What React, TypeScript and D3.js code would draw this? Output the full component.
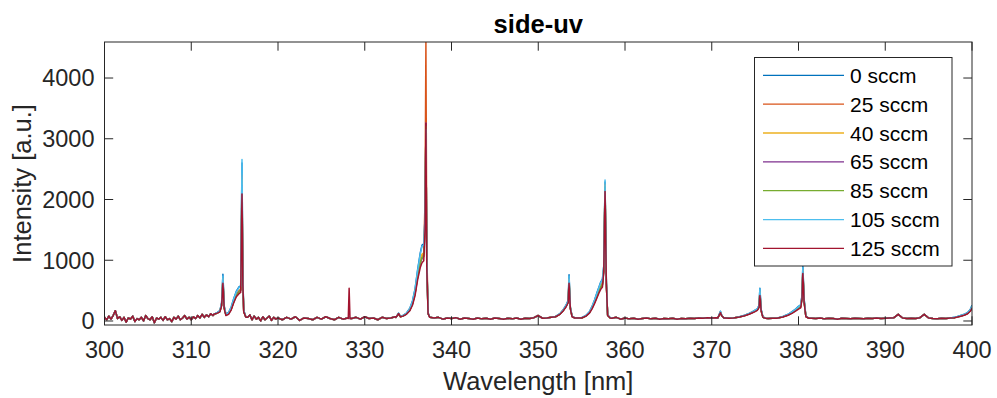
import React, { useEffect, useRef } from "react";
import * as d3 from "d3";

const W = 997;
const H = 398;
const margin = { left: 104.5, right: 997 - 972, top: 42, bottom: 398 - 325 };

const xDomain = [300, 400];
const yDomain = [-66, 4593];
const xTicks = [300, 310, 320, 330, 340, 350, 360, 370, 380, 390, 400];
const yTicks = [0, 1000, 2000, 3000, 4000];

const seriesNames = ["0 sccm", "25 sccm", "40 sccm", "65 sccm", "85 sccm", "105 sccm", "125 sccm"];
const seriesColors = ["#0072BD", "#D95319", "#EDB120", "#7E2F8E", "#77AC30", "#4DBEEE", "#A2142F"];

// Shared background (noise floor)
const bgWavelength = [
  300.0, 300.25, 300.5, 300.75, 301.0, 301.25, 301.5, 301.75, 302.0, 302.25, 302.5, 302.75,
  303.0, 303.25, 303.5, 303.75, 304.0, 304.25, 304.5, 304.75, 305.0, 305.25, 305.5, 305.75,
  306.0, 306.25, 306.5, 306.75, 307.0, 307.25, 307.5, 307.75, 308.0, 308.25, 308.5, 308.75,
  309.0, 309.25, 309.5, 309.75, 310.0, 310.25, 310.5, 310.75, 311.0, 311.25, 311.5, 311.75,
  312.0, 312.25, 312.5,
  316.5, 316.75, 317.0, 317.25, 317.5, 317.75, 318.0, 318.25, 318.5, 318.75, 319.0, 319.25,
  319.5, 319.75,
  320.0, 320.5, 321.0, 321.5, 322.0, 322.5, 323.0, 323.5, 324.0, 324.5, 325.0, 325.5,
  326.0, 326.5, 327.0, 327.5, 328.0, 328.5, 329.0, 329.5, 330.0, 330.5, 331.0, 331.5,
  332.0, 332.5, 333.0, 333.5,
  338.0, 338.5, 339.0, 339.5, 340.0, 340.5, 341.0, 341.5, 342.0, 342.5, 343.0, 343.5,
  344.0, 344.5, 345.0, 345.5, 346.0, 346.5, 347.0, 347.5, 348.0, 348.5, 349.0, 349.5,
  350.0, 350.5, 351.0, 351.5,
  358.5, 359.0, 359.5, 360.0, 360.5, 361.0, 361.5, 362.0, 362.5, 363.0, 363.5, 364.0,
  364.5, 365.0, 365.5, 366.0, 366.5, 367.0, 367.5, 368.0, 368.5, 369.0, 369.5, 370.0,
  370.5, 371.5, 372.0, 376.5, 377.0,
  381.5, 382.0, 382.5, 383.0, 383.5, 384.0, 384.5, 385.0, 385.5, 386.0, 386.5, 387.0,
  387.5, 388.0, 388.5, 389.0, 389.5, 390.0, 390.5, 391.0, 391.5, 392.0, 392.5, 393.0,
  393.5, 394.0, 394.5, 395.0, 395.5, 396.0, 396.5, 397.0, 397.5,
];
const bgIntensity = [
  60, 20, 80, 30, 90, 170, 40, 70, 10, 60, -20, 50,
  30, 80, -10, 40, 20, 60, 0, 90, 40, 20, 70, -30,
  50, 30, 60, 10, 70, 20, 40, -10, 60, 30, 80, 20,
  50, 90, 30, 60, 20, 70, 40, 90, 50, 110, 60, 100,
  70, 120, 90,
  60, 100, 20, 80, 30, 60, 0, 70, 20, 50, 80, 10,
  60, 30,
  50, 20, 60, 30, 70, 10, 50, 40, 20, 60, 30, 70,
  40, 20, 60, 30, 50, 40, 60, 30, 70, 40, 50, 20,
  60, 40, 50, 70,
  50, 60, 30, 50, 40, 55, 30, 50, 40, 30, 50, 35,
  45, 30, 50, 40, 30, 45, 35, 50, 30, 45, 40, 55,
  90, 45, 50, 60,
  45, 60, 30, 50, 35, 45, 30, 40, 50, 35, 45, 30,
  40, 35, 45, 30, 40, 35, 45, 40, 50, 45, 55, 50,
  55, 50, 45, 40, 45,
  45, 40, 50, 35, 45, 40, 30, 45, 40, 35, 45, 40,
  35, 45, 40, 50, 40, 45, 50, 55, 110, 50, 40, 45,
  40, 55, 110, 50, 40, 35, 45, 40, 50,
];

// Emission features (bands and lines): wavelengths shared, intensities per series
const featureWavelength = [
  312.6, 313.0, 313.3, 313.5, 313.65, 313.8, 314.0, 314.3, 314.6, 314.9, 315.2, 315.5, 315.7, 315.85, 315.95, 316.05, 316.3,
  328.1, 328.2, 328.3,
  333.6, 333.9, 334.1, 334.4, 334.8, 335.2, 335.5, 335.8, 336.1, 336.4, 336.6, 336.8, 336.95, 337.05, 337.15, 337.3, 337.5,
  352.0, 352.5, 352.9, 353.2, 353.45, 353.55, 353.7, 353.9, 354.2,
  355.0, 355.5, 355.9, 356.2, 356.5, 356.8, 357.0, 357.2, 357.4, 357.55, 357.7, 357.85, 358.0, 358.3,
  370.7, 371.0, 371.15, 371.4,
  372.5, 373.2, 373.8, 374.3, 374.7, 375.0, 375.25, 375.45, 375.55, 375.7, 375.9, 376.2,
  377.5, 378.2, 378.8, 379.3, 379.7, 380.0, 380.25, 380.4, 380.5, 380.65, 380.85, 381.2,
  398.0, 398.6, 399.1, 399.5, 399.8, 400.0,
];

const sccm0 = [
  110, 140, 170, 300, 770, 250, 110, 140, 230, 370, 490, 560, 580, 2600, 700, 180, 60,
  50, 70, 45,
  60, 130, 75, 90, 130, 210, 330, 530, 850, 1120, 1250, 1270, 1700, 3150, 1000, 130, 60,
  75, 120, 190, 260, 340, 760, 230, 80, 50,
  55, 90, 150, 240, 350, 480, 560, 640, 690, 900, 2290, 650, 100, 55,
  50, 160, 90, 50,
  50, 70, 95, 125, 155, 180, 200, 260, 540, 190, 65, 45,
  45, 75, 110, 160, 200, 240, 265, 420, 900, 360, 80, 45,
  60, 85, 110, 140, 190, 260,
];
const sccm25 = [
  105, 135, 160, 270, 700, 230, 100, 125, 200, 330, 440, 500, 520, 2400, 650, 160, 60,
  45, 65, 40,
  60, 120, 70, 85, 120, 190, 290, 470, 760, 990, 1080, 1100, 2000, 4593, 1200, 130, 60,
  70, 115, 180, 245, 320, 690, 215, 75, 50,
  50, 85, 140, 220, 320, 430, 510, 580, 620, 850, 2250, 620, 95, 50,
  50, 145, 85, 50,
  50, 68, 90, 118, 145, 168, 188, 240, 480, 175, 62, 45,
  45, 70, 100, 145, 180, 220, 240, 390, 840, 330, 75, 45,
  55, 80, 100, 130, 175, 235,
];
const sccm40 = [
  105, 135, 160, 265, 690, 225, 100, 125, 200, 325, 435, 495, 515, 2320, 640, 160, 60,
  50, 60, 45,
  60, 120, 70, 85, 120, 190, 295, 480, 770, 1000, 1100, 1120, 1600, 3200, 950, 125, 60,
  70, 115, 180, 245, 320, 680, 215, 75, 50,
  50, 85, 140, 220, 320, 430, 510, 585, 625, 850, 2240, 620, 95, 50,
  50, 140, 85, 50,
  50, 68, 90, 118, 145, 166, 186, 238, 475, 172, 62, 45,
  45, 70, 100, 145, 180, 218, 238, 385, 830, 325, 75, 45,
  55, 80, 100, 128, 170, 230,
];
const sccm65 = [
  105, 130, 155, 260, 670, 220, 95, 120, 195, 320, 425, 485, 505, 2230, 620, 155, 60,
  45, 60, 40,
  60, 120, 70, 82, 115, 180, 280, 450, 720, 950, 1030, 1060, 1550, 3260, 950, 125, 60,
  70, 112, 175, 240, 310, 660, 210, 72, 50,
  50, 82, 135, 210, 305, 410, 490, 555, 595, 820, 2200, 610, 92, 50,
  50, 138, 85, 50,
  50, 66, 88, 115, 140, 162, 182, 232, 460, 170, 62, 45,
  45, 68, 98, 140, 175, 210, 230, 370, 810, 320, 72, 45,
  55, 78, 98, 125, 165, 225,
];
const sccm85 = [
  105, 130, 155, 260, 660, 215, 95, 120, 190, 315, 420, 480, 500, 2180, 610, 155, 60,
  50, 55, 45,
  60, 120, 70, 82, 115, 180, 280, 455, 730, 960, 1040, 1070, 1550, 3200, 950, 125, 60,
  70, 112, 175, 240, 310, 650, 210, 72, 50,
  50, 82, 135, 210, 305, 415, 490, 560, 600, 820, 2200, 610, 92, 50,
  50, 136, 85, 50,
  50, 66, 88, 115, 140, 162, 182, 230, 455, 168, 62, 45,
  45, 68, 98, 140, 175, 210, 230, 368, 805, 318, 72, 45,
  55, 78, 98, 125, 165, 222,
];
const sccm105 = [
  110, 140, 165, 290, 740, 240, 105, 135, 220, 360, 480, 550, 570, 2660, 720, 180, 60,
  50, 65, 45,
  60, 125, 75, 90, 125, 205, 320, 520, 830, 1100, 1230, 1250, 1700, 3150, 1000, 130, 60,
  75, 120, 185, 255, 335, 740, 225, 80, 50,
  55, 90, 150, 235, 345, 470, 550, 630, 680, 900, 2320, 650, 100, 55,
  50, 155, 90, 50,
  50, 70, 95, 125, 150, 178, 198, 255, 530, 185, 65, 45,
  45, 75, 108, 155, 195, 235, 260, 410, 880, 350, 80, 45,
  60, 85, 108, 138, 185, 250,
];
const sccm125 = [
  110, 130, 150, 250, 620, 200, 90, 110, 180, 300, 400, 450, 470, 2090, 600, 150, 60,
  40, 540, 40,
  60, 120, 70, 80, 110, 170, 260, 420, 680, 880, 960, 990, 1500, 3250, 900, 120, 60,
  70, 110, 170, 230, 300, 620, 200, 70, 50,
  50, 80, 130, 200, 290, 390, 460, 520, 560, 800, 2130, 600, 90, 50,
  50, 135, 85, 50,
  50, 65, 85, 110, 135, 155, 175, 220, 420, 160, 60, 45,
  45, 65, 95, 130, 165, 195, 215, 350, 780, 300, 70, 45,
  55, 75, 95, 120, 160, 210,
];
const seriesValues = [sccm0, sccm25, sccm40, sccm65, sccm85, sccm105, sccm125];

const FONT = "'Liberation Sans', Arial, Helvetica, sans-serif";
const AXIS = "#262626";

function featureSpans(): [number, number][] {
  const spans: [number, number][] = [];
  let start = featureWavelength[0];
  for (let i = 1; i < featureWavelength.length; i++) {
    if (featureWavelength[i] - featureWavelength[i - 1] > 1.0) {
      spans.push([start, featureWavelength[i - 1]]);
      start = featureWavelength[i];
    }
  }
  spans.push([start, featureWavelength[featureWavelength.length - 1]]);
  return spans;
}

function buildSeries(vals: number[]): [number, number][] {
  const spans = featureSpans();
  const pts: [number, number][] = featureWavelength.map((w, i) => [w, vals[i]]);
  bgWavelength.forEach((w, i) => {
    if (!spans.some(([a, b]) => w >= a - 1e-6 && w <= b + 1e-6)) pts.push([w, bgIntensity[i]]);
  });
  pts.sort((a, b) => a[0] - b[0]);
  return pts;
}

export default function App() {
  const ref = useRef<SVGSVGElement>(null);

  useEffect(() => {
    const svg = d3.select(ref.current);
    svg.selectAll("*").remove();

    const x0 = margin.left, x1 = W - margin.right, y0 = margin.top, y1 = H - margin.bottom;
    const x = d3.scaleLinear().domain(xDomain).range([x0, x1]);
    const y = d3.scaleLinear().domain(yDomain).range([y1, y0]);

    svg.append("rect").attr("width", W).attr("height", H).attr("fill", "#ffffff");

    svg.append("defs").append("clipPath").attr("id", "plotclip")
      .append("rect").attr("x", x0).attr("y", y0).attr("width", x1 - x0).attr("height", y1 - y0);

    const line = d3.line<[number, number]>().x((d) => x(d[0])).y((d) => y(d[1]));
    const g = svg.append("g").attr("clip-path", "url(#plotclip)");
    seriesValues.forEach((vals, i) => {
      g.append("path")
        .attr("d", line(buildSeries(vals)) as string)
        .attr("fill", "none")
        .attr("stroke", seriesColors[i])
        .attr("stroke-width", 1.5)
        .attr("stroke-linejoin", "round");
    });

    // Box
    svg.append("rect").attr("x", x0).attr("y", y0).attr("width", x1 - x0).attr("height", y1 - y0)
      .attr("fill", "none").attr("stroke", AXIS).attr("stroke-width", 1);

    const tl = 8.7;
    xTicks.forEach((t) => {
      const px = x(t);
      svg.append("line").attr("x1", px).attr("x2", px).attr("y1", y1).attr("y2", y1 - tl).attr("stroke", AXIS);
      svg.append("line").attr("x1", px).attr("x2", px).attr("y1", y0).attr("y2", y0 + tl).attr("stroke", AXIS);
      svg.append("text").attr("x", px).attr("y", 357.5).attr("text-anchor", "middle")
        .attr("font-family", FONT).attr("font-size", 23.5).attr("fill", AXIS).text(String(t));
    });
    yTicks.forEach((t) => {
      const py = y(t);
      svg.append("line").attr("x1", x0).attr("x2", x0 + tl).attr("y1", py).attr("y2", py).attr("stroke", AXIS);
      svg.append("line").attr("x1", x1).attr("x2", x1 - tl).attr("y1", py).attr("y2", py).attr("stroke", AXIS);
      svg.append("text").attr("x", x0 - 10).attr("y", py + 8.3).attr("text-anchor", "end")
        .attr("font-family", FONT).attr("font-size", 23.5).attr("fill", AXIS).text(String(t));
    });

    svg.append("text").attr("x", (x0 + x1) / 2).attr("y", 390).attr("text-anchor", "middle")
      .attr("font-family", FONT).attr("font-size", 25.5).attr("fill", AXIS).text("Wavelength [nm]");
    svg.append("text").attr("transform", `translate(31,${(y0 + y1) / 2}) rotate(-90)`)
      .attr("text-anchor", "middle").attr("font-family", FONT).attr("font-size", 25.5)
      .attr("fill", AXIS).text("Intensity [a.u.]");
    svg.append("text").attr("x", (x0 + x1) / 2).attr("y", 33).attr("text-anchor", "middle")
      .attr("font-family", FONT).attr("font-size", 25.5).attr("font-weight", "bold")
      .attr("fill", "#000000").text("side-uv");

    const lg = svg.append("g");
    lg.append("rect").attr("x", 754.5).attr("y", 57.5).attr("width", 197.5).attr("height", 208.5)
      .attr("fill", "#ffffff").attr("stroke", AXIS).attr("stroke-width", 1);
    seriesNames.forEach((name, i) => {
      const cy = 75.3 + i * 28.85;
      lg.append("line").attr("x1", 763).attr("x2", 844).attr("y1", cy).attr("y2", cy)
        .attr("stroke", seriesColors[i]).attr("stroke-width", 1.3);
      lg.append("text").attr("x", 850).attr("y", cy + 7.6).attr("font-family", FONT)
        .attr("font-size", 21).attr("fill", "#000000").text(name);
    });
  }, []);

  return (
    <svg ref={ref} width={W} height={H} style={{ position: "absolute", left: 0, top: 0, display: "block" }} />
  );
}
